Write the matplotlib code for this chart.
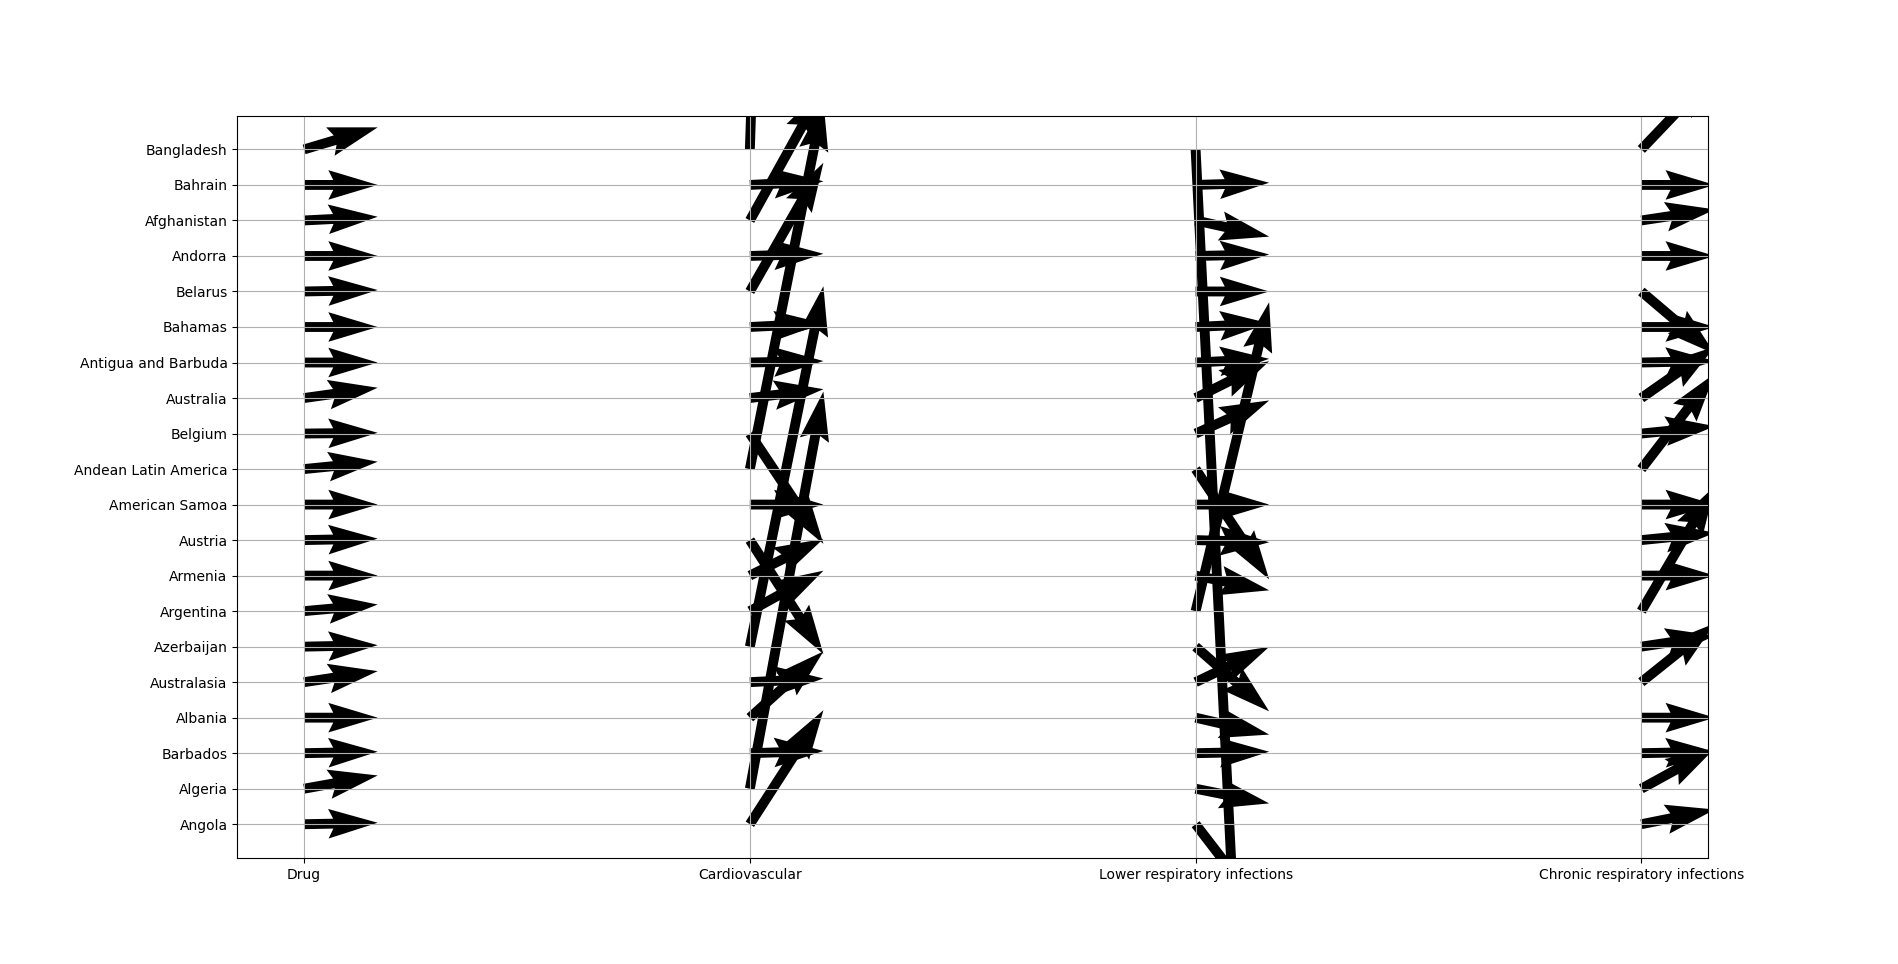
import numpy as np
import matplotlib.pyplot as plt

causes = ["Drug", "Cardiovascular", "Lower respiratory infections",
          "Chronic respiratory infections"]
countries = ["Angola", "Algeria", "Barbados", "Albania", "Australasia",
             "Azerbaijan", "Argentina", "Armenia", "Austria", "American Samoa",
             "Andean Latin America", "Belgium", "Australia", "Antigua and Barbuda",
             "Bahamas", "Belarus", "Andorra", "Afghanistan", "Bahrain", "Bangladesh"]

# vertical components per cause (bottom -> top), horizontal component is 1
drug = [0.02, 0.18, 0.02, 0.0, 0.15, 0.02, 0.09, 0.0, 0.02, 0.0,
        0.10, 0.01, 0.14, 0.0, 0.0, 0.02, 0.0, 0.05, 0.0, 0.30]
cardio = [1.55, 5.4, 0.03, 0.9, 0.05, 4.9, 0.55, 0.5, -1.55, 0.0,
          5.0, -1.5, 0.12, 0.02, 0.05, 1.75, 0.03, 1.8, 0.05, 30]
lower_resp = [-1.3, -0.2, 0.02, -0.23, 0.48, -0.88, 4.2, -0.2, -0.03, 0.0,
              -1.5, 0.45, 0.5, 0.05, 0.05, 0.0, 0.02, -0.22, 0.03, -20]
chronic_resp = [0.2, 0.55, 0.02, 0.0, 0.8, 0.15, 1.7, 0.0, 0.1, 0.0,
                1.3, 0.1, 0.7, 0.02, 0.0, -0.85, 0.0, 0.15, 0.0, 1.05]

X, Y = np.meshgrid(np.arange(len(causes)), np.arange(len(countries)))
V = np.column_stack([drug, cardio, lower_resp, chronic_resp])
U = np.ones_like(V)

fig, ax = plt.subplots(figsize=(18.98, 9.64), dpi=100)
ax.quiver(X, Y, U, V, scale=20, scale_units="width")
ax.set_xticks(range(len(causes)), causes)
ax.set_yticks(range(len(countries)), countries)
ax.grid(True)

fig.savefig("out.png")
